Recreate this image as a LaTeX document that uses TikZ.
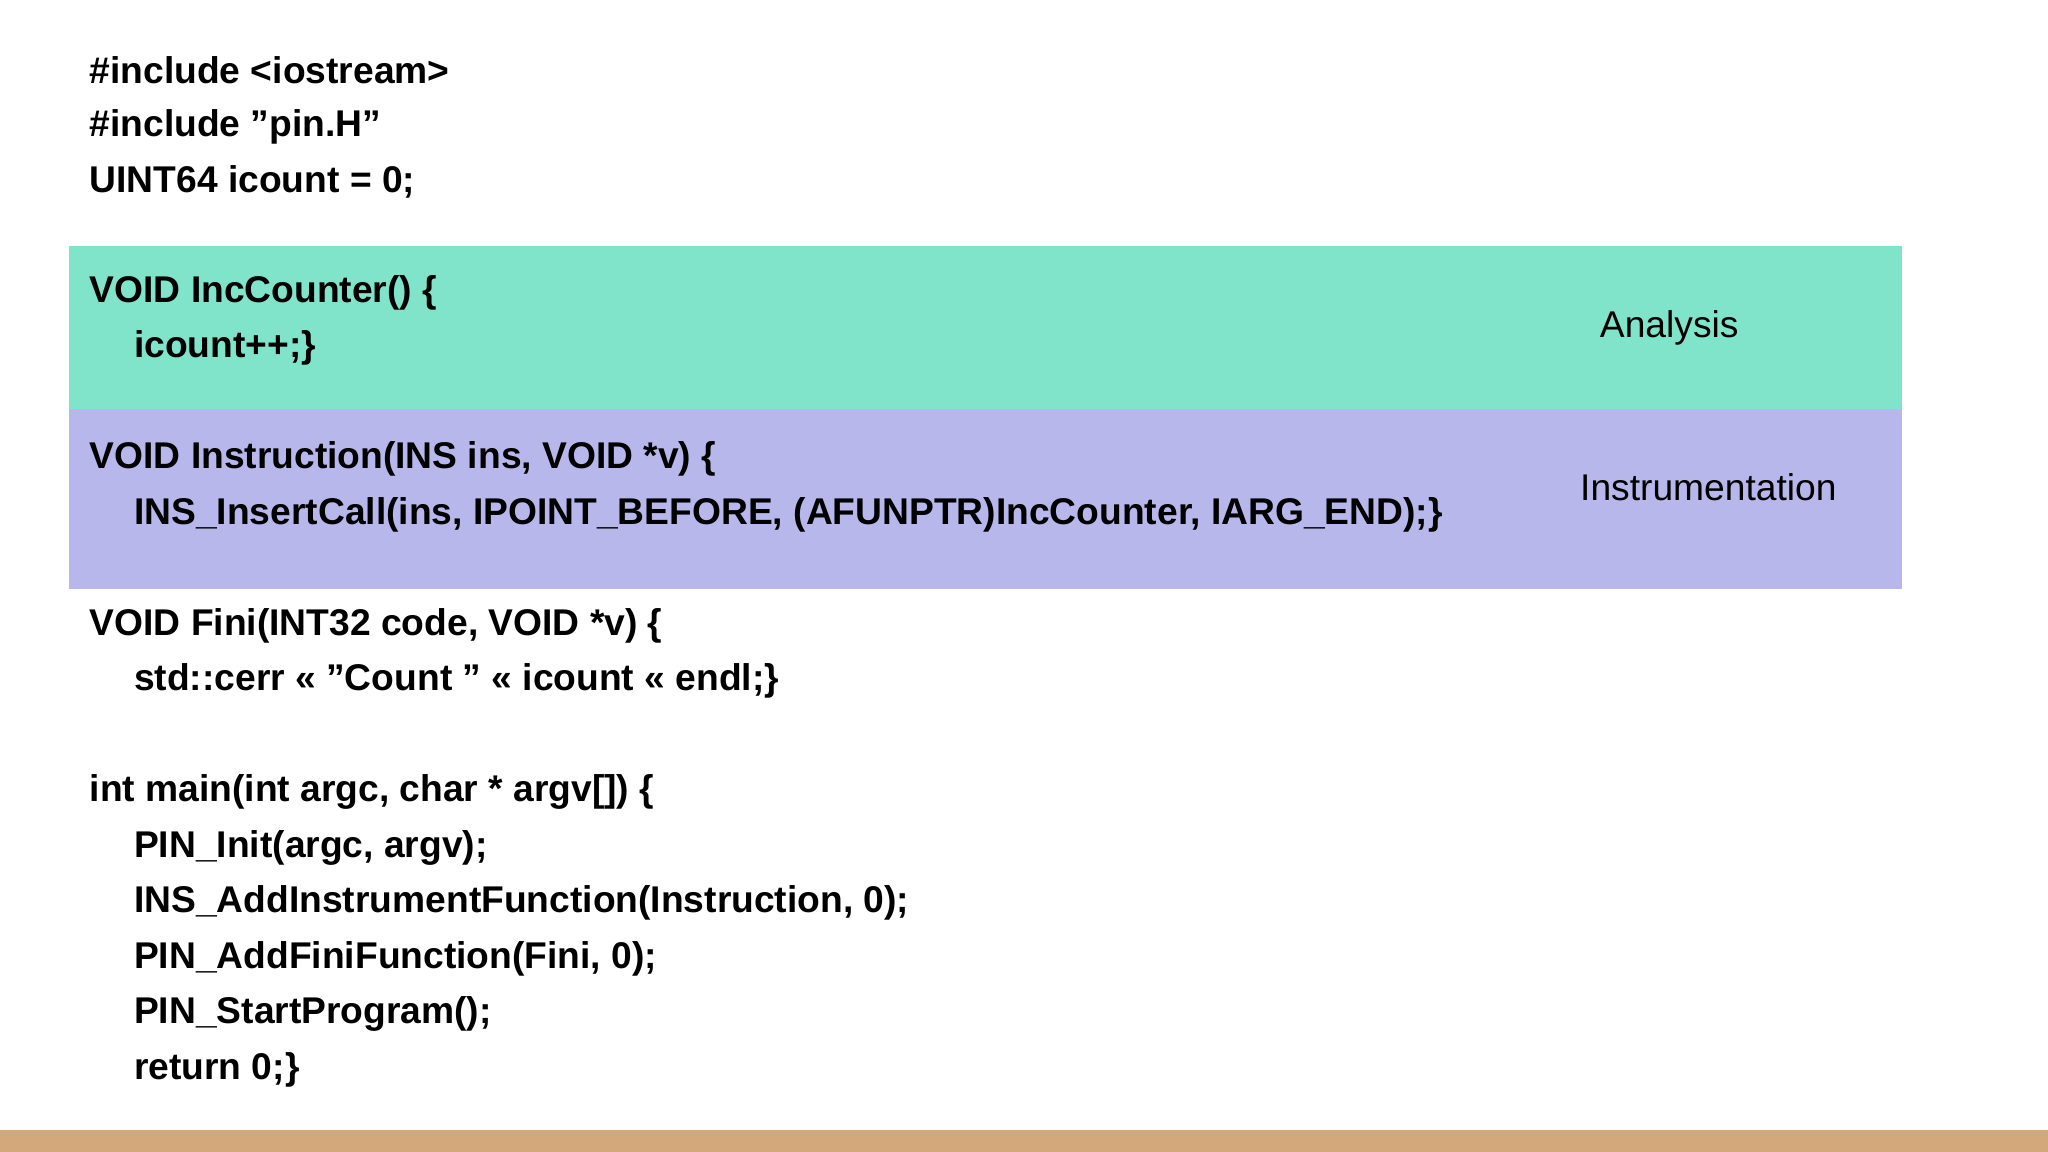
\documentclass[tikz,border=0pt]{standalone}
\usepackage{fontspec}
\setmainfont{Liberation Sans}
\definecolor{anag}{HTML}{7FE4CA}
\definecolor{insp}{HTML}{B7B7EB}
\definecolor{tanb}{HTML}{D3A97B}
\begin{document}
\begin{tikzpicture}[x=0.01cm,y=-0.01cm,
  code/.style={anchor=west,inner sep=0pt,font=\fontsize{8.1}{9}\selectfont\bfseries},
  lab/.style={inner sep=0pt,font=\fontsize{8.1}{9}\selectfont}]
\useasboundingbox (0,0) rectangle (1568,882);
\fill[white] (0,0) rectangle (1568,882);
\fill[anag] (53,188) rectangle (1456,313);
\fill[insp] (53,313) rectangle (1456,451);
\fill[tanb] (0,865) rectangle (1568,882);
\node[code] (l1) at (68,54) {\#include <iostream>};
\node[code] (l2) at (68,97) {\#include "pin.H"};
\node[code] (l3) at (68,139) {UINT64 icount = 0;};
\node[code] (l4) at (68,224) {VOID IncCounter() \{};
\node[code] (l5) at (102,266) {icount++;\}};
\node[code] (l6) at (68,351) {VOID Instruction(INS ins, VOID *v) \{};
\node[code] (l7) at (102,394) {INS\_InsertCall(ins, IPOINT\_BEFORE, (AFUNPTR)IncCounter, IARG\_END);\}};
\node[code] (l8) at (68,479) {VOID Fini(INT32 code, VOID *v) \{};
\node[code] (l9) at (102,521) {std::cerr << "Count " << icount << endl;\}};
\node[code] (l10) at (68,606) {int main(int argc, char * argv[]) \{};
\node[code] (l11) at (102,649) {PIN\_Init(argc, argv);};
\node[code] (l12) at (102,691) {INS\_AddInstrumentFunction(Instruction, 0);};
\node[code] (l13) at (102,734) {PIN\_AddFiniFunction(Fini, 0);};
\node[code] (l14) at (102,776) {PIN\_StartProgram();};
\node[code] (l15) at (102,819) {return 0;\}};
\node[lab] (ana) at (1278,251) {Analysis};
\node[lab] (ins) at (1308,373) {Instrumentation};
\end{tikzpicture}
\end{document}
